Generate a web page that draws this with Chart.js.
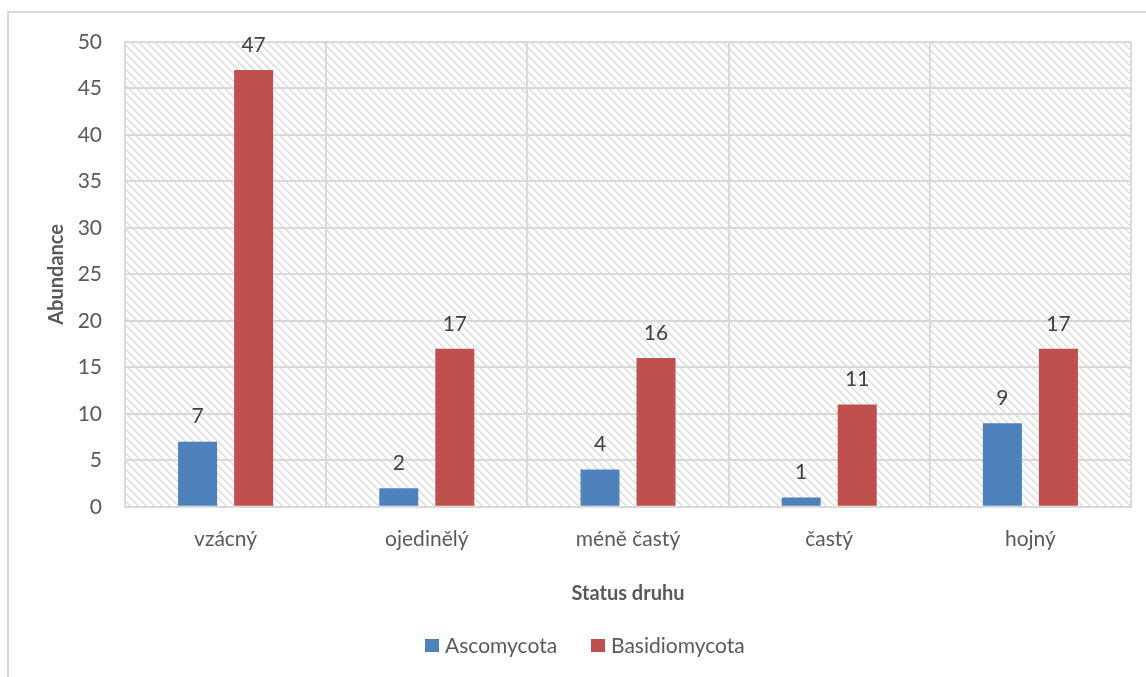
<!DOCTYPE html>
<html><head><meta charset="utf-8">
<script src="https://cdn.jsdelivr.net/npm/chart.js@4/dist/chart.umd.min.js"></script>
<style>html,body{margin:0;padding:0;background:#fff}#wrap{width:1146px;height:677px;position:relative}</style>
</head><body><div id="wrap"><canvas id="c" width="1146" height="677"></canvas></div>
<script>
const categories = ["vzácný", "ojedinělý", "méně častý", "častý", "hojný"];
const ascomycota = [7, 2, 4, 1, 9];
const basidiomycota = [47, 17, 16, 11, 17];
const seriesNames = ["Ascomycota", "Basidiomycota"];
const yTicks = [0, 5, 10, 15, 20, 25, 30, 35, 40, 45, 50];
const seriesColors = ['#4F81BD', '#C0504D'];

const FONT = "Lato, 'Open Sans', sans-serif";

function makePattern(ctx){
  const p = document.createElement('canvas');
  p.width = 8; p.height = 8;
  const c = p.getContext('2d');
  c.fillStyle = '#ffffff'; c.fillRect(0,0,8,8);
  c.fillStyle = '#dedede';
  for (let i = 0; i < 8; i++){
    c.fillRect(i, i, 1, 1);
    c.fillRect((i+1)%8, i, 1, 1);
  }
  return ctx.createPattern(p, 'repeat');
}

const bgPlugin = {
  id: 'bg',
  beforeDraw(chart){
    const {ctx, chartArea:a} = chart;
    ctx.save();
    ctx.strokeStyle = '#d9d9d9'; ctx.lineWidth = 2;
    ctx.strokeRect(8, 12, 1146, 700);
    ctx.fillStyle = makePattern(ctx);
    ctx.fillRect(a.left, a.top, a.right - a.left, a.bottom - a.top);
    ctx.restore();
  }
};

const labelPlugin = {
  id: 'labels',
  afterDatasetsDraw(chart){
    const ctx = chart.ctx;
    ctx.save();
    ctx.fillStyle = '#404040';
    ctx.font = '21px ' + FONT;
    ctx.textAlign = 'center'; ctx.textBaseline = 'middle';
    chart.data.datasets.forEach((ds, i) => {
      chart.getDatasetMeta(i).data.forEach((bar, j) => {
        ctx.fillText(String(ds.data[j]), bar.x, bar.y - 25);
      });
    });
    ctx.restore();
  }
};

const legendPlugin = {
  id: 'customLegend',
  afterDraw(chart){
    const ctx = chart.ctx;
    const boxX = [425, 591];
    ctx.save();
    ctx.font = '21px ' + FONT;
    ctx.textBaseline = 'middle'; ctx.textAlign = 'left';
    chart.data.datasets.forEach((ds, i) => {
      ctx.fillStyle = ds.backgroundColor;
      ctx.fillRect(boxX[i], 639, 14, 13);
      ctx.fillStyle = '#595959';
      ctx.fillText(ds.label, boxX[i] + 20, 646);
    });
    ctx.restore();
  }
};

new Chart(document.getElementById('c'), {
  type: 'bar',
  data: {
    labels: categories,
    datasets: [
      {label: seriesNames[0], data: ascomycota, backgroundColor: seriesColors[0], categoryPercentage: 0.557, barPercentage: 0.696},
      {label: seriesNames[1], data: basidiomycota, backgroundColor: seriesColors[1], categoryPercentage: 0.557, barPercentage: 0.696}
    ]
  },
  options: {
    responsive: false, animation: false,
    layout: {padding: {left: 45, top: 42, right: 15, bottom: 62}},
    plugins: {
      legend: {display: false},
      tooltip: {enabled: false}
    },
    scales: {
      x: {
        grid: {color: '#d9d9d9', lineWidth: 2, drawTicks: false, offset: true},
        border: {color: '#d9d9d9', width: 2},
        ticks: {color: '#595959', font: {family: FONT, size: 21}, padding: 20},
        title: {display: true, text: 'Status druhu', color: '#595959', font: {family: FONT, size: 20, weight: 'bold'}, padding: {top: 10, bottom: 9}}
      },
      y: {
        min: 0, max: 50,
        afterBuildTicks(axis){ axis.ticks = yTicks.map(v => ({value: v})); },
        afterFit(scale){ scale.width = 80; },
        grid: {color: '#d9d9d9', lineWidth: 2, drawTicks: false},
        border: {color: '#d9d9d9', width: 2},
        ticks: {color: '#595959', font: {family: FONT, size: 21}, padding: 23},
        title: {display: true, text: 'Abundance', color: '#595959', font: {family: FONT, size: 20, weight: 'bold'}, padding: {top: 0, bottom: 11}}
      }
    }
  },
  plugins: [bgPlugin, labelPlugin, legendPlugin]
});
</script></body></html>
